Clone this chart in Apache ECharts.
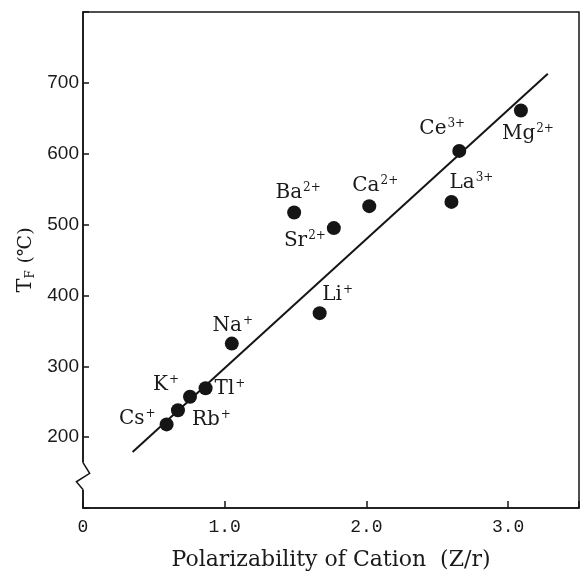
<!DOCTYPE html>
<html>
<head>
<meta charset="utf-8">
<script src="https://cdn.jsdelivr.net/npm/echarts@6/dist/echarts.min.js"></script>
<style>
  html, body { margin: 0; padding: 0; background: #fff; }
  #chart { width: 582px; height: 578px; }
</style>
</head>
<body>
<div id="chart"></div>
<script>
// Cation, its charge, polarizability Z/r and T_F (°C)
const ions = ['Cs', 'Rb', 'K', 'Tl', 'Na', 'Li', 'Sr', 'Ba', 'Ca', 'La', 'Ce', 'Mg'];
const charges = ['+', '+', '+', '+', '+', '+', '2+', '2+', '2+', '3+', '3+', '2+'];
const polarizability = [0.59, 0.67, 0.755, 0.865, 1.05, 1.67, 1.77, 1.49, 2.02, 2.60, 2.655, 3.09];
const tf = [218, 238, 257, 269, 332, 375, 495, 517, 526, 532, 604, 661];

// Regression line end points
const fitX = [0.35, 3.28];
const fitY = [179, 713];

// Labelled ticks
const xTicks = [0, 1, 2, 3];
const yTicks = [200, 300, 400, 500, 600, 700];

// Zig-zag axis break on the left axis (axis units)
const breakMark = [[0, 164], [0.047, 149], [-0.047, 137], [0, 126]];

// Where each ion's label sits relative to its dot
const labelPlace = {
  Cs: { position: 'left', offset: [1, -6] },
  Rb: { position: 'right', offset: [2, 10] },
  K:  { position: 'left', offset: [1, -12] },
  Tl: { position: 'right', offset: [-3, 1] },
  Na: { position: 'top', offset: [1, 5] },
  Li: { position: 'top', offset: [18, 5] },
  Sr: { position: 'left', offset: [4, 13] },
  Ba: { position: 'top', offset: [4, 3] },
  Ca: { position: 'top', offset: [6, 3] },
  La: { position: 'top', offset: [20, 4] },
  Ce: { position: 'top', offset: [-17, 1] },
  Mg: { position: 'bottom', offset: [7, 0] }
};

const INK = '#151515';
const TEXT = '#1a1a1a';
const SERIF = "'DejaVu Serif', 'Liberation Serif', serif";

const points = ions.map((name, i) => ({
  name: name,
  value: [polarizability[i], tf[i]],
  label: Object.assign({
    show: true,
    formatter: '{n|' + name + '}{s|' + charges[i] + '}'
  }, labelPlace[name])
}));

const chart = echarts.init(document.getElementById('chart'), null, { renderer: 'canvas' });

chart.setOption({
  backgroundColor: '#fff',
  animation: false,
  grid: {
    left: 83, right: 1, top: 12, bottom: 70,
    show: true, borderColor: INK, borderWidth: 1.5, backgroundColor: 'transparent'
  },
  xAxis: {
    type: 'value', min: 0, max: 3.5, interval: 1,
    name: 'Polarizability of Cation  (Z/r)',
    nameLocation: 'middle', nameGap: 41,
    nameTextStyle: { fontFamily: SERIF, fontSize: 22, color: TEXT },
    axisLine: { show: true, onZero: false, lineStyle: { color: INK, width: 1.5 } },
    axisTick: { show: true, inside: true, length: 7, lineStyle: { color: INK, width: 1.5 } },
    splitLine: { show: false },
    axisLabel: {
      margin: 10, fontFamily: "'Liberation Mono', monospace", fontSize: 18, color: TEXT,
      formatter: v => xTicks.includes(v) ? (v === 0 ? '0' : v.toFixed(1)) : ''
    }
  },
  yAxis: {
    type: 'value', min: 100, max: 800, interval: 100,
    name: '{t|T}{f|F}  {p|(℃)}',
    nameLocation: 'middle', nameGap: 43,
    nameTextStyle: {
      color: TEXT,
      rich: {
        t: { fontFamily: SERIF, fontSize: 21, color: TEXT },
        f: { fontFamily: SERIF, fontSize: 12, color: TEXT, verticalAlign: 'bottom', padding: [7, 0, 0, 0] },
        p: { fontFamily: SERIF, fontSize: 19, color: TEXT }
      }
    },
    axisLine: { show: true, lineStyle: { color: INK, width: 1.5 } },
    axisTick: { show: true, inside: true, length: 6, lineStyle: { color: INK, width: 1.5 } },
    splitLine: { show: false },
    axisLabel: {
      margin: 4, fontFamily: "'Liberation Sans', Arial, sans-serif", fontSize: 19, color: TEXT,
      formatter: v => yTicks.includes(v) ? String(v) : ''
    }
  },
  series: [
    {
      type: 'line',
      data: fitX.map((x, i) => [x, fitY[i]]),
      symbol: 'none',
      lineStyle: { color: INK, width: 2 },
      z: 2
    },
    {
      type: 'scatter',
      data: points,
      symbol: 'circle',
      symbolSize: 14,
      itemStyle: { color: INK, opacity: 1 },
      label: {
        color: TEXT,
        distance: 5,
        rich: {
          n: { fontFamily: SERIF, fontSize: 20, color: TEXT, lineHeight: 22 },
          s: { fontFamily: SERIF, fontSize: 12, color: TEXT, verticalAlign: 'top', lineHeight: 22, padding: [0, 0, 11, 1] }
        }
      },
      emphasis: { disabled: true },
      z: 3
    }
  ]
});

// Break symbol drawn over the lower end of the left axis
function drawBreak() {
  const pts = breakMark.map(p => chart.convertToPixel({ gridIndex: 0 }, p));
  const top = pts[0][1];
  const bot = pts[pts.length - 1][1];
  chart.setOption({
    graphic: [
      { type: 'rect', z: 100, shape: { x: pts[0][0] - 4, y: top, width: 8, height: bot - top }, style: { fill: '#fff' } },
      { type: 'polyline', z: 101, shape: { points: pts }, style: { stroke: INK, lineWidth: 1.5, fill: null } }
    ]
  });
}
drawBreak();
</script>
</body>
</html>
